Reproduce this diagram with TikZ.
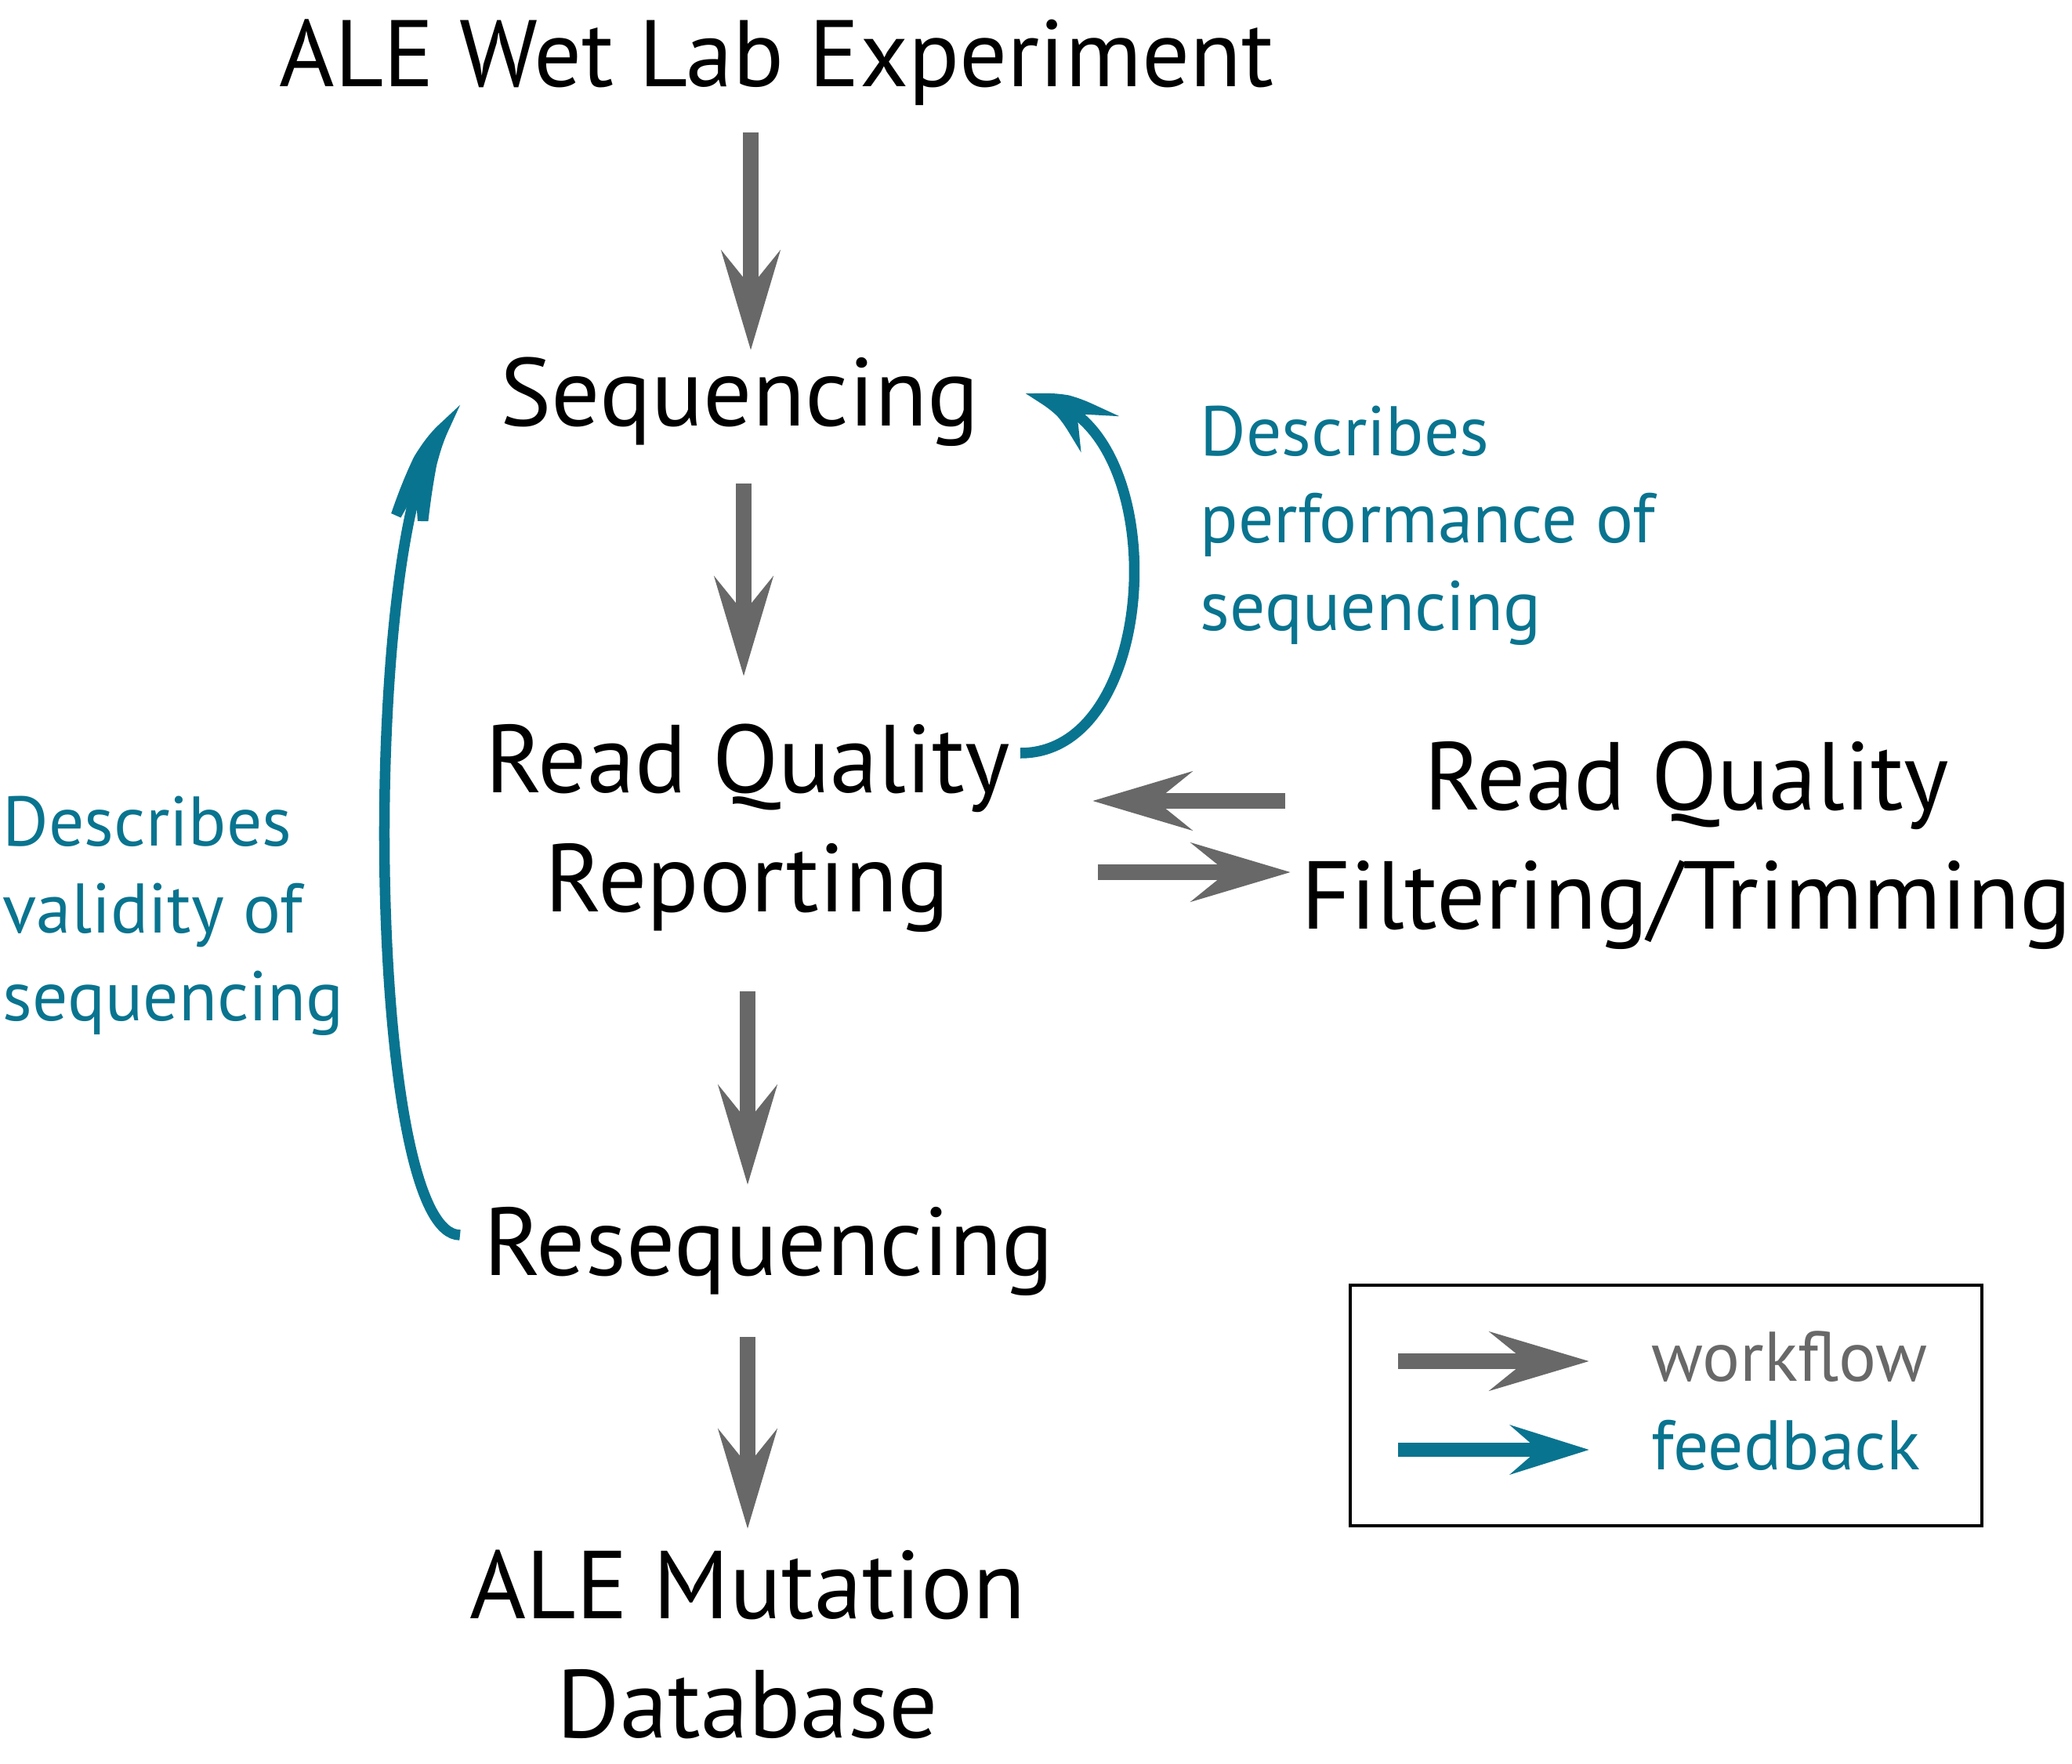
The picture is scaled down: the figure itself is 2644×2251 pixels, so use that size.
\documentclass[tikz,border=0pt]{standalone}
\usepackage{fontspec}
\setmainfont{PT Sans}
\usetikzlibrary{arrows.meta,bending}
\definecolor{flowgray}{RGB}{104,104,104}
\definecolor{fbteal}{RGB}{9,116,143}

\begin{document}
\begin{tikzpicture}[x=0.01cm,y=-0.01cm,
  stage/.style={inner sep=0pt,align=center,font=\fontsize{35}{43}\selectfont},
  remark/.style={inner sep=0pt,align=left,text=fbteal,font=\fontsize{25.5}{31.6}\selectfont},
  flow/.style={draw=flowgray,line width=0.2cm,-{Stealth[length=1.26cm,width=0.74cm,inset=0.45cm]}},
  feedback/.style={draw=fbteal,line width=0.135cm,-{Stealth[length=1.15cm,width=0.65cm,inset=0.4cm,bend]}}]
             \useasboundingbox (0,0) rectangle (2644,2251);

             % stages (base = last line)
             \node[stage,anchor=base,font=\fontsize{34.3}{43}\selectfont] (exp) at (991,110) {ALE Wet Lab Experiment};
             \node[stage,anchor=base] (seq) at (944,543) {Sequencing};
             \node[stage,anchor=base] (rq) at (954,1163) {Read Quality\\Reporting};
             \node[stage,anchor=base] (filt) at (2152,1185) {Read Quality\\Filtering/Trimming};
             \node[stage,anchor=base] (reseq) at (981,1627) {Resequencing};
             \node[stage,anchor=base] (db) at (954,2217) {ALE Mutation\\Database};

             % remarks
             \node[remark,anchor=base west] (perf) at (1531,804) {Describes\\performance of\\sequencing};
             \node[remark,anchor=base west] (valid) at (3,1302) {Describes\\validity of\\sequencing};

             % workflow
             \draw[flow] ([shift={(-33,59)}]exp.base) -- ([shift={(14,-96)}]seq.base);
             \draw[flow] ([shift={(5,74)}]seq.base) -- ([shift={(-5,-300)}]rq.base);
             \draw[flow] ([shift={(0,102)}]rq.base) -- ([shift={(-27,-115)}]reseq.base);
             \draw[flow] ([shift={(-27,79)}]reseq.base) -- ([shift={(0,-266)}]db.base);
             \draw[flow] ([shift={(-512,-163)}]filt.base) -- ([shift={(440,-141)}]rq.base);
             \draw[flow] ([shift={(447,-50)}]rq.base) -- ([shift={(-505,-72)}]filt.base);

             % feedback
             \draw[feedback] ([shift={(348,-202)}]rq.base) to[out=0,in=0,looseness=1.07] ([shift={(363,-37)}]seq.base);
             \draw[feedback] ([shift={(-394,-51)}]reseq.base) to[out=180,in=180,looseness=0.32] ([shift={(-354,-10)}]seq.base);

             % legend
             \draw[line width=1pt] (1723,1640) rectangle (2529,1947);
             \coordinate (wf1) at (1784,1737);
             \coordinate (wf2) at (2028,1737);
             \coordinate (fb1) at (1784,1850);
             \coordinate (fb2) at (2028,1850);
             \draw[flow] (wf1) -- (wf2);
             \draw[feedback,line width=0.18cm,-{Stealth[length=1.0cm,width=0.62cm,inset=0.35cm]}] (fb1) -- (fb2);
             \node[remark,anchor=base west,text=flowgray] (wflab) at (2107,1762) {workflow};
             \node[remark,anchor=base west] (fblab) at (2107,1875) {feedback};
\end{tikzpicture}
\end{document}
